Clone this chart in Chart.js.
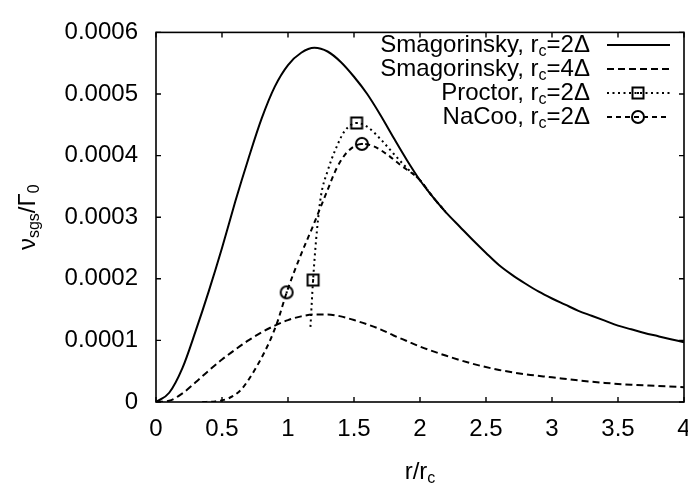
<!DOCTYPE html>
<html><head><meta charset="utf-8">
<script src="https://cdn.jsdelivr.net/npm/chart.js@4/dist/chart.umd.min.js"></script>
<style>html,body{margin:0;padding:0;background:#fff}canvas{display:block}</style>
</head><body>
<canvas id="c" width="688" height="493"></canvas>
<script>
// ---- data ----
const smag2X = [0,0.1,0.2,0.3,0.4,0.5,0.6,0.7,0.8,0.9,1.0,1.1,1.2,1.3,1.4,1.5,1.6,1.7,1.8,1.9,2.0,2.1,2.2,2.3,2.4,2.5,2.6,2.7,2.8,2.9,3.0,3.1,3.2,3.3,3.4,3.5,3.6,3.7,3.8,3.9,4.0];
const smag2Y = [0,0.000015,0.000055,0.000115,0.00018,0.00025,0.000325,0.000395,0.00046,0.000512,0.000547,0.000567,0.000575,0.000569,0.000552,0.000528,0.0005,0.000466,0.000429,0.000393,0.00036,0.000332,0.000307,0.000285,0.000263,0.000242,0.000222,0.000206,0.000192,0.000179,0.000168,0.000158,0.000148,0.00014,0.000132,0.000124,0.000118,0.000112,0.000107,0.000102,0.000097];
const smag4X = [0,0.1,0.2,0.3,0.4,0.5,0.6,0.7,0.8,0.9,1.0,1.1,1.2,1.3,1.4,1.5,1.6,1.7,1.8,1.9,2.0,2.2,2.4,2.6,2.8,3.0,3.2,3.4,3.6,3.8,4.0];
const smag4Y = [0,0.000002,0.000014,0.000032,0.000051,0.000069,0.000085,0.0001,0.000113,0.000124,0.000133,0.000139,0.000142,0.000142,0.000139,0.000133,0.000126,0.000118,0.000108,0.000099,0.00009,0.000075,0.000062,0.000052,0.000045,0.00004,0.000035,0.000031,0.000028,0.000026,0.000024];
const proctorX = [1.17,1.19,1.22,1.25,1.30,1.36,1.43,1.52,1.60,1.70,1.80,1.90,2.00,2.10,2.20];
const proctorY = [0.000122,0.000198,0.00028,0.000335,0.000375,0.00041,0.00044,0.000453,0.000447,0.000427,0.000403,0.00038,0.00036,0.000332,0.000307];
const proctorMarks = [1.19,1.52];
const nacooX = [0.35,0.45,0.55,0.64,0.71,0.79,0.86,0.92,0.99,1.09,1.19,1.29,1.37,1.45,1.56,1.65,1.75,1.85,2.00,2.10,2.20];
const nacooY = [0,0.000001,0.000006,0.000019,0.000039,0.000068,0.000098,0.00013,0.000178,0.000235,0.000286,0.000339,0.00038,0.000406,0.000419,0.000415,0.000402,0.000385,0.00036,0.000332,0.000307];
const nacooMarks = [0.99,1.56];
const xTicks = [0,0.5,1,1.5,2,2.5,3,3.5,4];
const yTickLabels = ['0','0.0001','0.0002','0.0003','0.0004','0.0005','0.0006'];
const legendParts = [
  [['Smagorinsky, r',0],['c',1],['=2Δ',0]],
  [['Smagorinsky, r',0],['c',1],['=4Δ',0]],
  [['Proctor, r',0],['c',1],['=2Δ',0]],
  [['NaCoo, r',0],['c',1],['=2Δ',0]]
];
const yTitleParts = [['ν',0],['sgs',1],['/Γ',0],['0',1]];
const xTitleParts = [['r/r',0],['c',1]];

// ---- helpers ----
const FONT = "'Liberation Sans', Arial, Helvetica, sans-serif";
const FS = 24, SFS = 16;
function pts(xs, ys){ return xs.map((x,i)=>({x:x,y:ys[i]})); }
function markerImg(kind){
  const c = document.createElement('canvas'); c.width = 16; c.height = 16;
  const g = c.getContext('2d');
  g.strokeStyle = '#000'; g.fillStyle = '#000'; g.lineWidth = 2;
  if (kind === 'square') { g.strokeRect(2.5,2.5,11,11); }
  else { g.beginPath(); g.arc(8,8,6,0,Math.PI*2); g.stroke(); }
  g.fillRect(7,7,2,2);
  return c;
}
const sqImg = markerImg('square'), ciImg = markerImg('circle');
function measureParts(ctx, parts){
  let w = 0;
  parts.forEach(([t,s])=>{ ctx.font = (s?SFS:FS)+'px '+FONT; w += ctx.measureText(t).width; });
  return w;
}
function drawParts(ctx, parts, x, y){
  let cx = x;
  parts.forEach(([t,s])=>{
    ctx.font = (s?SFS:FS)+'px '+FONT;
    ctx.fillText(t, cx, y + (s?7:0));
    cx += ctx.measureText(t).width;
  });
}

const overlay = {
  id:'overlay',
  afterDatasetsDraw(chart){
    const {ctx, chartArea:a, scales:{x, y}} = chart;
    ctx.save();
    ctx.strokeStyle = '#000'; ctx.fillStyle = '#000';
    ctx.setLineDash([]);
    ctx.lineWidth = 1.6;
    ctx.strokeRect(a.left, a.top, a.right - a.left, a.bottom - a.top);
    ctx.lineWidth = 1.4;
    ctx.beginPath();
    x.ticks.forEach(t=>{ const p = x.getPixelForValue(t.value);
      ctx.moveTo(p, a.bottom); ctx.lineTo(p, a.bottom - 5);
      ctx.moveTo(p, a.top); ctx.lineTo(p, a.top + 5); });
    y.ticks.forEach(t=>{ const p = y.getPixelForValue(t.value);
      ctx.moveTo(a.left, p); ctx.lineTo(a.left + 5, p);
      ctx.moveTo(a.right, p); ctx.lineTo(a.right - 5, p); });
    ctx.stroke();

    // legend
    ctx.textBaseline = 'middle';
    const rows = [45, 69, 93, 117];
    chart.data.datasets.forEach((ds, i)=>{
      const ry = rows[i];
      const w = measureParts(ctx, legendParts[i]);
      drawParts(ctx, legendParts[i], 590 - w, ry);
      ctx.save();
      ctx.lineWidth = ds.borderWidth; ctx.setLineDash(ds.borderDash || []);
      ctx.beginPath(); ctx.moveTo(607, ry); ctx.lineTo(670, ry); ctx.stroke();
      ctx.restore();
      if (ds.legendMark) ctx.drawImage(ds.legendMark, 638 - 8, ry - 8);
    });

    // x title
    const xw = measureParts(ctx, xTitleParts);
    drawParts(ctx, xTitleParts, (a.left + a.right)/2 - xw/2, 472);
    // y title
    ctx.save();
    ctx.translate(28, (a.top + a.bottom)/2);
    ctx.rotate(-Math.PI/2);
    const yw = measureParts(ctx, yTitleParts);
    drawParts(ctx, yTitleParts, -yw/2, 0);
    ctx.restore();
    ctx.restore();
  }
};

Chart.defaults.font.family = FONT;
Chart.defaults.color = '#000';

new Chart(document.getElementById('c'), {
  type: 'scatter',
  data: { datasets: [
    { label:'Smagorinsky rc=2', data: pts(smag2X, smag2Y), showLine:true, borderColor:'#000', borderWidth:2, pointRadius:0, cubicInterpolationMode:'monotone' },
    { label:'Smagorinsky rc=4', data: pts(smag4X, smag4Y), showLine:true, borderColor:'#000', borderWidth:2, borderDash:[7,4], pointRadius:0, cubicInterpolationMode:'monotone' },
    { label:'Proctor', data: pts(proctorX, proctorY), showLine:true, borderColor:'#000', borderWidth:2, borderDash:[2,3.5], cubicInterpolationMode:'monotone',
      pointStyle: sqImg, legendMark: sqImg, pointRadius: c => proctorMarks.includes(c.raw && c.raw.x) ? 7 : 0 },
    { label:'NaCoo', data: pts(nacooX, nacooY), showLine:true, borderColor:'#000', borderWidth:2, borderDash:[5,4], cubicInterpolationMode:'monotone',
      pointStyle: ciImg, legendMark: ciImg, pointRadius: c => nacooMarks.includes(c.raw && c.raw.x) ? 7 : 0 }
  ]},
  options: {
    responsive:false, animation:false,
    layout:{ padding:{ top:14, right:4, left:0, bottom:0 } },
    plugins:{ legend:{display:false}, tooltip:{enabled:false} },
    scales:{
      x:{ type:'linear', min:0, max:4,
        afterBuildTicks: s => { s.ticks = xTicks.map(v=>({value:v})); },
        ticks:{ font:{size:FS}, padding:13, maxRotation:0, autoSkip:false, callback: v => String(v) },
        grid:{ display:false, drawTicks:false }, border:{display:false},
        afterFit: s => { s.height = 91; s.paddingLeft = 0; s.paddingRight = 0; } },
      y:{ type:'linear', min:0, max:0.0006,
        afterBuildTicks: s => { s.ticks = yTickLabels.map((l,i)=>({value: i*0.0001})); },
        ticks:{ font:{size:FS}, padding:18, autoSkip:false, callback: (v, i) => yTickLabels[i] },
        grid:{ display:false, drawTicks:false }, border:{display:false},
        afterFit: s => { s.width = 156; } }
    }
  },
  plugins:[overlay]
});
</script>
</body></html>
